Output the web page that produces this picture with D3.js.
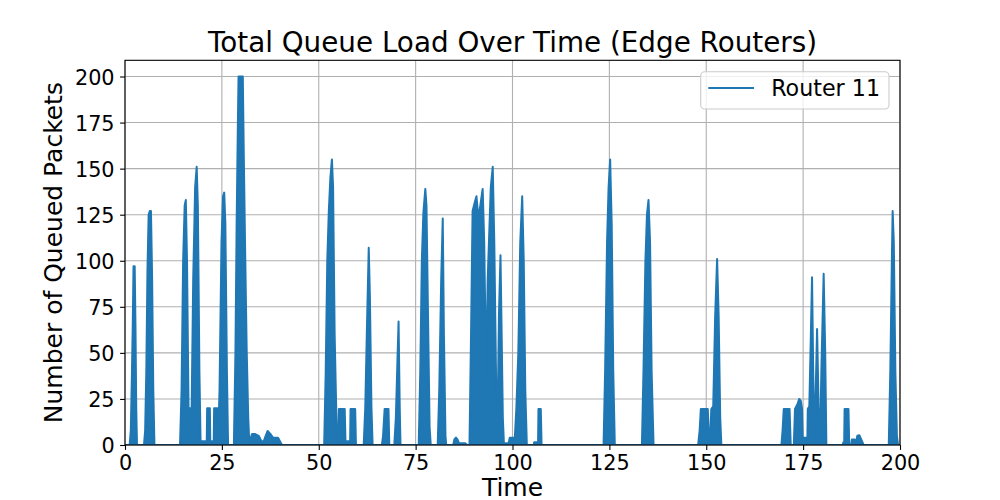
<!DOCTYPE html>
<html>
<head>
<meta charset="utf-8">
<script src="https://cdn.jsdelivr.net/npm/d3@7"></script>
<style>
  html, body { margin: 0; padding: 0; background: #fff; }
  svg { display: block; font-family: "DejaVu Sans", sans-serif; }
</style>
</head>
<body>
<svg id="chart" width="1000" height="500"></svg>
<script>
// ---- data (envelope of the queued-packet trace) ----
const seriesName = "Router 11";
const times = [
  0, 1.2, 1.5, 1.8, 2.0, 2.2, 2.5, 2.7, 2.9, 3.1,
  4.9, 5.2, 5.5, 5.8, 6.1, 6.4, 6.7, 7.0, 7.3, 7.6,
  14.2, 14.6, 15.0, 15.4, 15.7, 16.0, 16.4, 16.8, 17.2, 17.6, 18.1, 18.5, 18.8, 19.2, 19.5,
  21.1, 21.2, 21.9, 22.0, 22.9, 23.0, 23.9, 24.1, 24.4, 24.9, 25.3, 25.6, 25.9, 26.3, 26.6,
  28.1, 28.5, 28.8, 29.1, 29.3, 30.4, 30.7, 31.0, 31.4, 31.8, 32.1,
  32.3, 32.8, 33.5, 34.5, 35.2, 35.8, 36.3, 36.8, 37.5, 38.2, 39.5, 40.5,
  51.4, 51.8, 52.2, 52.6, 53.0, 53.4, 53.7, 54.1, 54.6, 55.0, 55.2, 56.7, 56.9, 58.1, 58.2, 59.4, 59.6,
  61.6, 62.0, 62.4, 62.9, 63.2, 63.6, 63.9,
  66.3, 66.6, 67.0, 68.0, 68.2,
  69.5, 69.9, 70.3, 70.6, 70.9, 71.1,
  75.8, 76.2, 76.6, 77.0, 77.5, 77.8, 78.2, 78.6, 78.9,
  80.7, 81.1, 81.6, 82.0, 82.3, 82.7, 82.9,
  84.7, 85.0, 85.4, 85.8, 86.2, 87.8, 88.3,
  88.9, 89.3, 89.7, 90.3, 90.7, 91.2, 91.7, 92.3, 92.7, 93.2, 93.6, 94.4, 94.9, 95.3, 95.8, 96.2, 96.5, 96.9, 97.2, 97.5, 97.8,
  98.0, 98.2, 99.0, 99.3, 100.6, 101.0, 101.5, 102.0, 102.5, 102.9, 103.3, 103.7,
  105.5, 105.6, 106.6, 106.7, 107.3, 107.5,
  123.5, 123.9, 124.4, 124.8, 125.2, 125.6, 126.0, 126.4,
  133.4, 133.8, 134.3, 134.7, 135.1, 135.5, 135.9, 136.4,
  147.9, 148.3, 148.6, 150.4, 150.7, 151.0, 151.3, 151.8, 152.3, 152.8, 153.2, 153.6, 153.9,
  169.4, 169.7, 170.0, 171.5, 171.8,
  172.6, 172.9, 173.5, 174.0, 174.4, 174.7, 174.9, 176.1, 176.2, 176.6, 177.0, 177.3, 177.6, 177.9,
  178.1, 178.6, 179.0, 179.4, 179.7, 180.3, 180.7, 181.0,
  185.2, 185.4, 185.6, 185.7, 186.7, 186.9,
  187.4, 187.6, 188.3, 188.6, 189.0, 189.5, 190.0, 190.6,
  197.1, 197.5, 197.9, 198.1, 198.4, 198.8, 199.2, 199.5, 200
];
const queued = [
  0, 0, 8, 40, 65, 97, 97, 65, 20, 0,
  0, 8, 40, 95, 125, 127, 127, 90, 30, 0,
  0, 30, 100, 130, 133, 100, 20, 20, 20, 90, 140, 151, 130, 40, 2,
  2, 20, 20, 2, 2, 20, 20, 7, 30, 110, 135, 137, 120, 40, 0,
  0, 50, 118, 170, 200, 200, 150, 106, 52, 15, 0,
  3, 6, 6, 5, 2, 2, 5, 7.6, 6, 4, 4, 0,
  0, 40, 100, 127, 145, 155, 140, 60, 10, 2, 19.5, 19.5, 2, 2, 19.5, 19.5, 0,
  0, 20, 60, 107, 80, 20, 0,
  0, 5, 19.5, 19.5, 0,
  0, 15, 45, 67, 20, 0,
  0, 40, 100, 126, 139, 130, 70, 10, 0,
  0, 30, 90, 123, 60, 5, 0,
  0, 3, 4, 3, 1, 1, 0,
  0, 60, 127, 132, 135, 123, 130, 139, 110, 37, 90, 140, 151, 110, 30, 20, 70, 103, 60, 15, 0,
  0, 1, 1, 4, 4, 20, 50, 110, 135, 100, 30, 0,
  0, 1.5, 1.5, 19.5, 19.5, 0,
  0, 40, 110, 140, 155, 120, 40, 0,
  0, 40, 100, 125, 133, 110, 40, 0,
  0, 8, 19.5, 19.5, 3, 3, 19.5, 21, 70, 101, 70, 15, 0,
  0, 8, 19.5, 19.5, 0,
  0, 19.5, 22, 25, 24, 20, 4, 4, 19.5, 21, 60, 91, 40, 3,
  15, 63, 20, 3, 40, 93, 50, 0,
  0, 1.5, 1.5, 19.5, 19.5, 0,
  0, 3, 3, 1, 5, 5.3, 3, 0,
  0, 40, 100, 127, 110, 40, 5, 0, 0
];
const xTicks = [0, 25, 50, 75, 100, 125, 150, 175, 200];
const yTicks = [0, 25, 50, 75, 100, 125, 150, 175, 200];
const titleText = "Total Queue Load Over Time (Edge Routers)";
const xLabelText = "Time";
const yLabelText = "Number of Queued Packets";

// ---- layout ----
const W = 1000, H = 500;
const L = 125, R = 900, T = 60.3, B = 445;
const color = "#1f77b4";

const svg = d3.select("#chart");
const x = d3.scaleLinear().domain([0, 200]).range([L, R]);
const y = d3.scaleLinear().domain([0, 208.8]).range([B, T]);

const data = times.map((t, i) => ({ t, v: queued[i] }));

// grid
const grid = svg.append("g");
grid.selectAll("line.vx").data(xTicks).enter().append("line")
  .attr("x1", d => x(d)).attr("x2", d => x(d))
  .attr("y1", T).attr("y2", B)
  .attr("stroke", "#b0b0b0").attr("stroke-width", 1.1);
grid.selectAll("line.hy").data(yTicks).enter().append("line")
  .attr("x1", L).attr("x2", R)
  .attr("y1", d => y(d)).attr("y2", d => y(d))
  .attr("stroke", "#b0b0b0").attr("stroke-width", 1.1);

// clip
svg.append("clipPath").attr("id", "clip")
  .append("rect").attr("x", L).attr("y", T).attr("width", R - L).attr("height", B - T);

const plot = svg.append("g").attr("clip-path", "url(#clip)");
const area = d3.area().x(d => x(d.t)).y0(y(0)).y1(d => y(d.v));
const line = d3.line().x(d => x(d.t)).y(d => y(d.v));
plot.append("path").datum(data).attr("d", area).attr("fill", color);
plot.append("path").datum(data).attr("d", line)
  .attr("fill", "none").attr("stroke", color)
  .attr("stroke-width", 2).attr("stroke-linejoin", "round");

// axes
const xAxis = d3.axisBottom(x).tickValues(xTicks).tickSize(4.9).tickPadding(4.5).tickFormat(d3.format("d"));
const yAxis = d3.axisLeft(y).tickValues(yTicks).tickSize(4.9).tickPadding(5.5).tickFormat(d3.format("d"));
const gx = svg.append("g").attr("transform", `translate(0,${B})`).call(xAxis);
const gy = svg.append("g").attr("transform", `translate(${L},0)`).call(yAxis);
[gx, gy].forEach(g => {
  g.select(".domain").remove();
  g.selectAll(".tick line").attr("stroke", "#000").attr("stroke-width", 1.1);
  g.selectAll(".tick text").attr("fill", "#000")
    .style("font-family", "'DejaVu Sans', sans-serif").style("font-size", "20.8px");
});
gx.selectAll(".tick text").attr("dy", "0.74em");
gy.selectAll(".tick text").attr("dy", "0.36em");

// spines
svg.append("rect").attr("x", L).attr("y", T).attr("width", R - L).attr("height", B - T)
  .attr("fill", "none").attr("stroke", "#000").attr("stroke-width", 1.1);

// title and labels
svg.append("text").attr("x", (L + R) / 2).attr("y", 51.7).attr("text-anchor", "middle")
  .style("font-size", "27.8px").text(titleText);
svg.append("text").attr("x", (L + R) / 2).attr("y", 496).attr("text-anchor", "middle")
  .style("font-size", "25px").text(xLabelText);
svg.append("text").attr("transform", `translate(61.7,${(T + B) / 2}) rotate(-90)`)
  .attr("text-anchor", "middle").style("font-size", "25px").text(yLabelText);

// legend
const lg = svg.append("g");
lg.append("rect").attr("x", 700.7).attr("y", 71.7).attr("width", 188.3).attr("height", 37.3)
  .attr("rx", 4).attr("fill", "rgba(255,255,255,0.8)").attr("stroke", "#cccccc").attr("stroke-width", 1.1);
lg.append("line").attr("x1", 708.3).attr("x2", 754).attr("y1", 88).attr("y2", 88)
  .attr("stroke", color).attr("stroke-width", 2);
lg.append("text").attr("x", 771.2).attr("y", 96).style("font-size", "22.2px").text(seriesName);
</script>
</body>
</html>
